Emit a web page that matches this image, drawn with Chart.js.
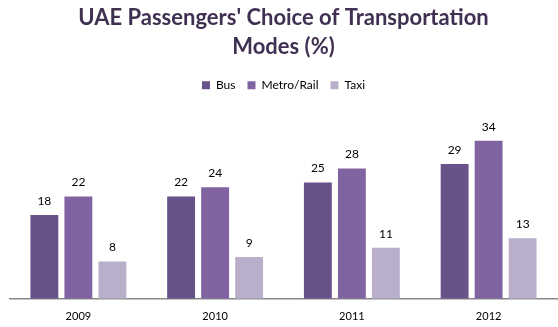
<!DOCTYPE html>
<html>
<head>
<meta charset="utf-8">
<script src="https://cdn.jsdelivr.net/npm/chart.js@4/dist/chart.umd.min.js"></script>
<style>
  html, body { margin: 0; padding: 0; background: #fff; }
  #wrap { width: 558px; height: 327px; }
</style>
</head>
<body>
<div id="wrap"><canvas id="myChart"></canvas></div>
<script>
const years = ["2009", "2010", "2011", "2012"];
const busValues = [18, 22, 25, 29];
const metroValues = [22, 24, 28, 34];
const taxiValues = [8, 9, 11, 13];

// draws the number above each bar
const barLabels = {
  id: "barLabels",
  afterDatasetsDraw(chart) {
    const ctx = chart.ctx;
    ctx.save();
    ctx.font = "12px Lato";
    ctx.fillStyle = "#000";
    ctx.textAlign = "center";
    ctx.textBaseline = "bottom";
    chart.data.datasets.forEach((ds, i) => {
      chart.getDatasetMeta(i).data.forEach((bar, j) => {
        ctx.fillText(ds.data[j], bar.x, bar.y - 8);
      });
    });
    ctx.restore();
  }
};

new Chart("myChart", {
  type: "bar",
  data: {
    labels: years,
    datasets: [
      { label: "Bus", data: busValues, backgroundColor: "#69518a" },
      { label: "Metro/Rail", data: metroValues, backgroundColor: "#8064a2" },
      { label: "Taxi", data: taxiValues, backgroundColor: "#b9afcb" }
    ]
  },
  options: {
    responsive: true,
    maintainAspectRatio: false,
    animation: false,
    categoryPercentage: 0.746,
    barPercentage: 0.82,
    layout: { padding: { left: 10, right: 1, top: 4, bottom: 1 } },
    plugins: {
      title: {
        display: true,
        text: ["UAE Passengers' Choice of Transportation", "Modes (%)"],
        color: "#403152",
        font: { family: "Lato", size: 22, weight: "bold", lineHeight: 1.3 },
        padding: { top: 0, bottom: 6 }
      },
      legend: {
        labels: {
          boxWidth: 8,
          boxHeight: 8,
          color: "#000",
          font: { family: "Lato", size: 12 },
          padding: 12
        }
      },
      tooltip: { enabled: false }
    },
    scales: {
      x: {
        grid: { display: false },
        border: { display: true, color: "#888", width: 1.5 },
        ticks: { color: "#000", font: { family: "Lato", size: 11 }, padding: 3 }
      },
      y: {
        display: false,
        min: 0,
        max: 42.5
      }
    }
  },
  plugins: [barLabels]
});
</script>
</body>
</html>
